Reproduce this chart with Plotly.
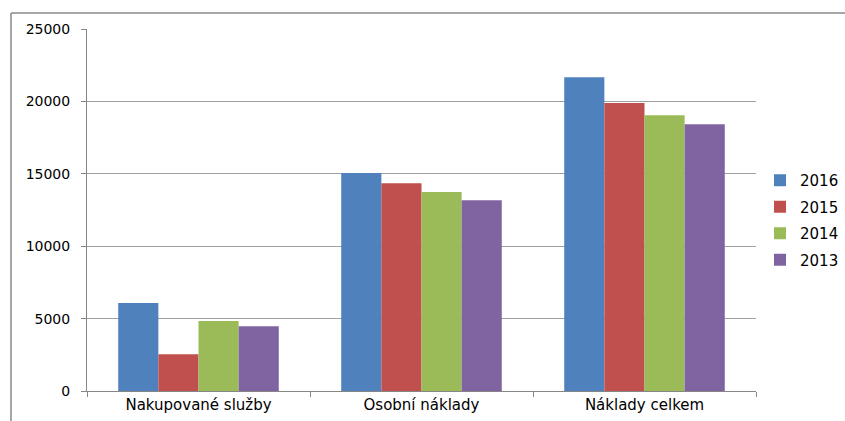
import plotly.graph_objects as go

# Categories and yearly values
categories = ["Nakupované služby", "Osobní náklady", "Náklady celkem"]
years = ["2016", "2015", "2014", "2013"]
values_2016 = [6080, 15050, 21660]
values_2015 = [2530, 14340, 19890]
values_2014 = [4830, 13740, 19040]
values_2013 = [4470, 13170, 18420]
y_ticks = [0, 5000, 10000, 15000, 20000, 25000]

series = [values_2016, values_2015, values_2014, values_2013]
colors = ["#4F81BD", "#C0504D", "#9BBB59", "#8064A2"]

FONT = "DejaVu Sans"

fig = go.Figure()
for year, vals, col in zip(years, series, colors):
    fig.add_trace(go.Bar(
        name=year, x=categories, y=vals,
        marker=dict(color=col, line=dict(width=0)),
        legendgroup=year,
    ))

fig.update_layout(
    width=845, height=421,
    margin=dict(l=87, r=89, t=29, b=30),
    paper_bgcolor="white", plot_bgcolor="white",
    barmode="group", bargap=0.28, bargroupgap=0,
    font=dict(family=FONT, size=14, color="#000000"),
    legend=dict(
        xref="container", yref="container",
        x=760 / 845, y=1 - 220 / 421, xanchor="left", yanchor="middle",
        font=dict(family=FONT, size=15, color="#000000"),
        tracegroupgap=4, itemwidth=30,
        bgcolor="rgba(0,0,0,0)",
    ),
    xaxis=dict(
        automargin=False,
        showgrid=False, showline=True, linecolor="#868686", linewidth=1,
        ticks="outside", tickson="boundaries", ticklen=5, tickcolor="#868686",
        tickfont=dict(family=FONT, size=15, color="#000000"),
    ),
    yaxis=dict(
        automargin=False,
        range=[0, 25000], tickvals=y_ticks, tickformat="d",
        showgrid=True, gridcolor="#a0a0a0", gridwidth=1,
        showline=True, linecolor="#868686", linewidth=1,
        ticks="outside", ticklen=5, tickcolor="#868686",
        ticklabelstandoff=8,
        tickfont=dict(family=FONT, size=14, color="#000000"),
        zeroline=False,
    ),
    shapes=[
        # outer chart frame (top and left edges)
        dict(type="line", xref="paper", yref="paper",
             x0=-0.1136, x1=1.2, y0=1.044, y1=1.044,
             line=dict(color="#8a8a8a", width=1.5)),
        dict(type="line", xref="paper", yref="paper",
             x0=-0.1136, x1=-0.1136, y0=1.044, y1=-0.12,
             line=dict(color="#8a8a8a", width=1.5)),
    ],
)

fig.write_html("out.html")
